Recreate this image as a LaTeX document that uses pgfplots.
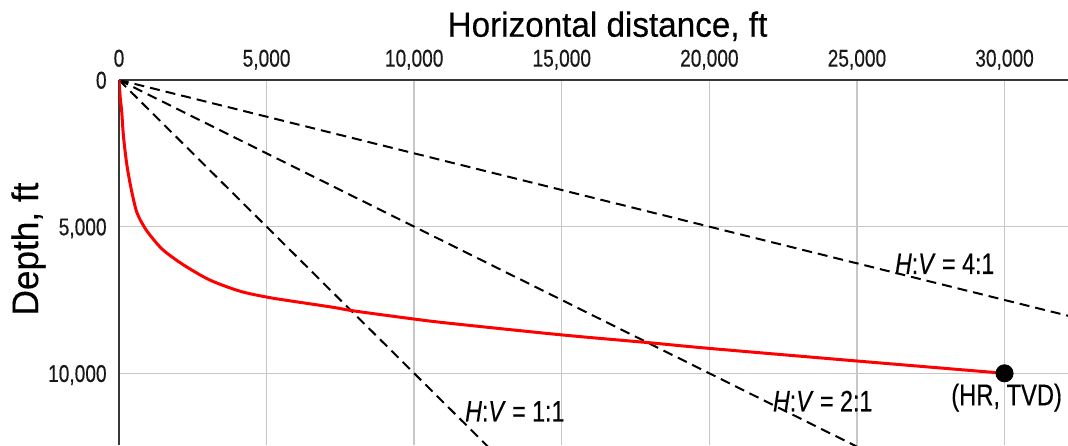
\documentclass[border=0pt]{standalone}
\usepackage{pgfplots}
\pgfplotsset{compat=1.18}
\usepackage{fontspec}
\setmainfont{Liberation Sans}
\newfontfamily\tickfont{Liberation Sans}[FakeStretch=0.79, FakeBold=0.4]
\newfontfamily\titlefont{Liberation Sans}[FakeStretch=0.95, FakeBold=0.3]
\begin{document}
\begin{tikzpicture}
\begin{axis}[
  name=ax,
  scale only axis,
  width=474.5pt, height=182.5pt,
  xmin=0, xmax=32150, ymin=0, ymax=12444,
  y dir=reverse,
  axis x line*=top, axis y line*=left,
  axis line style={line width=1.2pt, color=black!78},
  xtick={0,5000,10000,15000,20000,25000,30000},
  ytick={0,5000,10000},
  grid=major,
  grid style={line width=0.7pt, black!22},
  major tick length=0pt,
  tick style={draw=none},
  /pgf/number format/assume math mode=true,
  /pgf/number format/1000 sep={,},
  scaled ticks=false,
  xticklabel style={font=\tickfont\fontsize{12.1}{14}\selectfont, anchor=base, inner sep=0pt, yshift=6.7pt, text=black!90},
  yticklabel style={font=\tickfont\fontsize{12.1}{14}\selectfont, anchor=base east, inner sep=0pt, xshift=-6pt, yshift=-4.3pt, text=black!90},
]
% ratio lines
\addplot[black, line width=1pt, dash pattern=on 5pt off 3pt] coordinates {(0,0) (13000,13000)};
\addplot[black, line width=1pt, dash pattern=on 5pt off 3pt] coordinates {(0,0) (26000,13000)};
\addplot[black, line width=1pt, dash pattern=on 5pt off 3pt] coordinates {(0,0) (34000,8500)};
% well path
\addplot[red, line width=1.5pt, smooth, tension=0.5] coordinates {
(0,0) (20,300) (50,700) (90,1050) (150,1900) (260,2850) (410,3700) (600,4500)
(850,5000) (1100,5350) (1500,5800) (2180,6300) (3080,6820) (4100,7200)
(5000,7400) (5800,7530) (7260,7750) (7940,7870) (10000,8150) (11210,8295)
(15000,8690) (17890,8950) (20000,9150) (25000,9580) (30000,10000)};
\addplot[only marks, mark=*, mark size=4.3pt, black] coordinates {(30000,10000)};
\node[font=\tickfont\fontsize{14.7}{16}\selectfont, inner sep=0pt] at (axis cs:27972,6267) {\textit{H}:\textit{V} = 4:1};
\node[font=\tickfont\fontsize{14.7}{16}\selectfont, inner sep=0pt] at (axis cs:23840,10944) {\textit{H}:\textit{V} = 2:1};
\node[font=\tickfont\fontsize{14.7}{16}\selectfont, inner sep=0pt] at (axis cs:13410,11296) {\textit{H}:\textit{V} = 1:1};
\node[font=\tickfont\fontsize{15}{17}\selectfont, inner sep=0pt] at (axis cs:30070,10826) {(HR, TVD)};
\end{axis}
\node[font=\titlefont\fontsize{17.5}{20}\selectfont, anchor=base, inner sep=0pt] at ([xshift=244.25pt, yshift=21.65pt]ax.north west) {Horizontal distance, ft};
\node[font=\titlefont\fontsize{18.5}{20}\selectfont, rotate=90, inner sep=0pt] at ([xshift=-45.25pt, yshift=-84.5pt]ax.north west) {Depth, ft};
\pgfresetboundingbox
\path ([xshift=-59.5pt]ax.south west) rectangle ([yshift=40pt]ax.north east);
\end{tikzpicture}
\end{document}
